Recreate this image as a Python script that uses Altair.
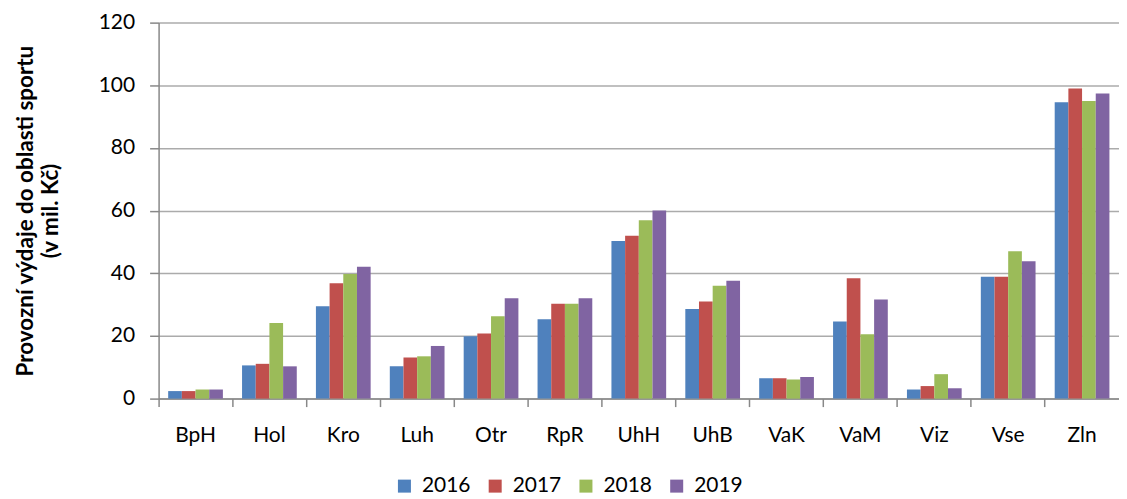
import altair as alt
import pandas as pd

cats = ["BpH", "Hol", "Kro", "Luh", "Otr", "RpR", "UhH", "UhB", "VaK", "VaM", "Viz", "Vse", "Zln"]
years = ["2016", "2017", "2018", "2019"]
v2016 = [2.4, 10.6, 29.5, 10.3, 19.9, 25.3, 50.3, 28.6, 6.5, 24.6, 2.9, 38.9, 94.6]
v2017 = [2.4, 11.1, 36.8, 13.1, 20.8, 30.3, 52.0, 31.0, 6.5, 38.4, 4.0, 38.9, 99.0]
v2018 = [2.9, 24.1, 39.8, 13.5, 26.3, 30.3, 56.9, 36.0, 6.1, 20.5, 7.8, 47.0, 95.0]
v2019 = [2.9, 10.3, 42.1, 16.8, 32.0, 32.0, 60.0, 37.6, 6.9, 31.6, 3.3, 43.8, 97.4]
colors = ["#4F81BD", "#C0504D", "#9BBB59", "#8064A2"]

rows = []
for y, vals in zip(years, [v2016, v2017, v2018, v2019]):
    for c, v in zip(cats, vals):
        rows.append({"cat": c, "year": y, "value": v})
df = pd.DataFrame(rows)

FONT = "Lato"

chart = alt.Chart(df).mark_bar().encode(
    x=alt.X("cat:N", sort=cats, title=None,
            scale=alt.Scale(paddingInner=0, paddingOuter=0),
            axis=alt.Axis(labelAngle=0, bandPosition=0, tickSize=8, labelPadding=18,
                          labelFontSize=21, labelFont=FONT, labelColor="#000000",
                          domainColor="#888888", tickColor="#888888", domainWidth=1.5, tickWidth=1.5,
                          grid=False)),
    xOffset=alt.XOffset("year:N", sort=years,
                        scale=alt.Scale(paddingInner=0, paddingOuter=0.7)),
    y=alt.Y("value:Q", scale=alt.Scale(domain=[0, 120], nice=False),
            title=["Provozní výdaje do oblasti sportu", "(v mil. Kč)"],
            axis=alt.Axis(values=[0, 20, 40, 60, 80, 100, 120], tickSize=9, labelPadding=15,
                          labelFontSize=21, labelFont=FONT, labelColor="#000000",
                          titleFontSize=22.5, titleFont=FONT, titleFontWeight="bold",
                          titleColor="#000000", titlePadding=36, titleLineHeight=25,
                          domainColor="#888888", tickColor="#888888", domainWidth=1.5, tickWidth=1.5,
                          gridColor="#ababab", gridWidth=1.5)),
    color=alt.Color("year:N", sort=years,
                    scale=alt.Scale(domain=years, range=colors),
                    legend=alt.Legend(title=None, orient="none", direction="horizontal",
                                      legendX=236, legendY=454, symbolType="square",
                                      symbolSize=170, symbolStrokeWidth=0, labelFontSize=21,
                                      labelFont=FONT, labelColor="#000000", labelOffset=7,
                                      columnPadding=14)),
).properties(
    width=963, height=377,
    padding={"left": 6, "top": 3, "right": 0, "bottom": 0},
).configure_view(stroke=None)

chart.save("out.html", embed_options={"renderer": "svg", "actions": False})
